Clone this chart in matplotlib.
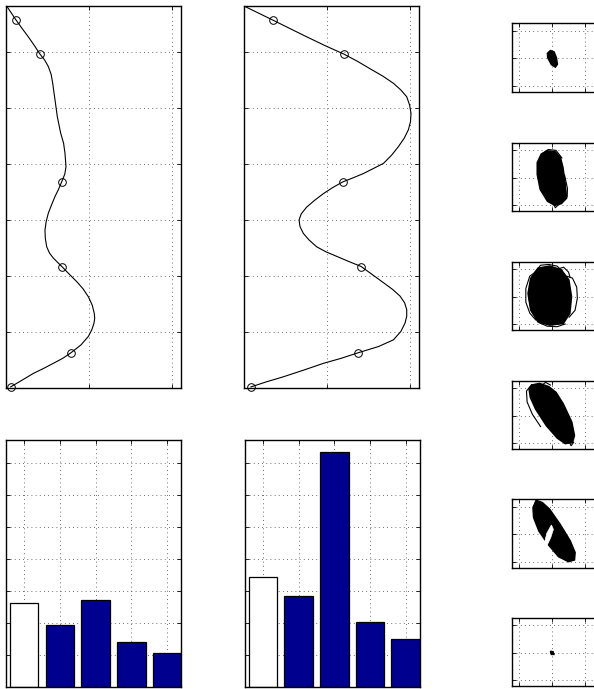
import matplotlib
matplotlib.use('Agg')
import matplotlib.pyplot as plt
from matplotlib.patches import Polygon

W, H = 594, 689

# Profiles (x, depth) for the two curve panels
prof1_x = [0.004, 0.117, 0.19, 0.265, 0.34, 0.406, 0.46, 0.506, 0.54, 0.559, 0.587, 0.615,
           0.655, 0.69, 0.707, 0.719, 0.705, 0.667, 0.63, 0.587, 0.545, 0.506, 0.48,
           0.466, 0.47, 0.487, 0.52, 0.566, 0.62, 0.675, 0.76, 0.848, 0.925, 0.988,
           1.035, 1.06, 1.065, 1.057, 1.03, 0.988, 0.90, 0.78, 0.68, 0.566, 0.45,
           0.325, 0.19, 0.053]
prof1_y = [6.82, 6.57, 6.42, 6.27, 6.11, 5.96, 5.86, 5.74, 5.60, 5.44, 5.14, 4.84,
           4.55, 4.37, 4.19, 3.95, 3.82, 3.68, 3.55, 3.42, 3.27, 3.12, 2.97,
           2.82, 2.67, 2.52, 2.41, 2.32, 2.24, 2.16, 2.03, 1.90, 1.77, 1.63,
           1.48, 1.33, 1.25, 1.16, 1.04, 0.92, 0.77, 0.63, 0.53, 0.44, 0.35,
           0.26, 0.14, 0.02]
mark1_x = [0.117, 0.406, 0.667, 0.675, 0.78, 0.053]

prof2_x = [0.0, 0.345, 0.55, 0.755, 0.98, 1.205, 1.37, 1.518, 1.67, 1.80, 1.89, 1.96,
           1.995, 2.012, 2.005, 1.98, 1.93, 1.86, 1.78, 1.68, 1.56, 1.44, 1.31,
           1.19, 1.07, 0.956, 0.85, 0.755, 0.69, 0.663, 0.675, 0.715, 0.785, 0.876,
           0.99, 1.117, 1.26, 1.41, 1.55, 1.68, 1.79, 1.88, 1.935, 1.96, 1.96,
           1.94, 1.89, 1.80, 1.62, 1.377, 1.17, 0.956, 0.72, 0.474, 0.27, 0.084]
prof2_y = [6.82, 6.57, 6.42, 6.27, 6.11, 5.96, 5.83, 5.70, 5.57, 5.44, 5.32, 5.20,
           5.05, 4.90, 4.75, 4.61, 4.46, 4.31, 4.16, 4.01, 3.92, 3.83, 3.75,
           3.68, 3.58, 3.47, 3.35, 3.23, 3.11, 3.00, 2.88, 2.76, 2.64, 2.52,
           2.43, 2.35, 2.26, 2.17, 2.02, 1.88, 1.76, 1.64, 1.52, 1.40, 1.28,
           1.16, 1.01, 0.86, 0.74, 0.63, 0.53, 0.44, 0.32, 0.20, 0.11, 0.02]
mark2_x = [0.345, 1.205, 1.19, 1.41, 1.377, 0.084]

mark_y = [6.57, 5.96, 3.68, 2.16, 0.63, 0.02]

# Bar heights
bars_x = [1, 2, 3, 4, 5]
bars1 = [2.63, 1.93, 2.72, 1.41, 1.06]
bars2 = [3.42, 2.84, 7.34, 2.01, 1.48]

# Phase portraits: filled outlines, holes and stray loops, per panel
blob1 = [(-0.05, 0.28), (0.06, 0.23), (0.13, 0.02), (0.16, -0.22), (0.10, -0.32),
         (-0.02, -0.23), (-0.13, 0.02), (-0.14, 0.18)]
blob2 = [(-0.15, 0.98), (0.09, 0.95), (0.25, 0.75), (0.33, 0.37), (0.40, -0.24),
         (0.44, -0.75), (0.28, -0.95), (0.08, -1.01), (-0.14, -0.86), (-0.36, -0.43),
         (-0.45, 0.12), (-0.45, 0.55), (-0.33, 0.86)]
blob3 = [(-0.43, 1.04), (-0.07, 1.12), (0.28, 0.98), (0.51, 0.61), (0.59, 0.0),
         (0.54, -0.61), (0.34, -0.98), (-0.07, -1.04), (-0.43, -0.92), (-0.65, -0.49),
         (-0.73, 0.12), (-0.65, 0.67)]
blob4 = [(-0.62, 1.12), (-0.38, 1.18), (-0.10, 1.06), (0.12, 0.85), (0.34, 0.43),
         (0.60, -0.24), (0.68, -0.73), (0.62, -0.98), (0.40, -1.02), (0.16, -0.82),
         (-0.17, -0.37), (-0.50, 0.24), (-0.66, 0.67), (-0.70, 0.98)]
blob5 = [(-0.48, 1.24), (-0.30, 1.16), (-0.08, 0.92), (0.24, 0.37), (0.55, -0.24),
         (0.70, -0.67), (0.68, -0.94), (0.50, -1.00), (0.20, -0.82), (-0.12, -0.37),
         (-0.40, 0.12), (-0.56, 0.61), (-0.58, 0.98)]
hole5 = [(-0.02, 0.34), (0.04, 0.18), (-0.04, -0.12), (-0.15, -0.40), (-0.24, -0.36),
         (-0.16, 0.04)]
blob6 = [(-0.05, 0.05), (0.03, 0.03), (0.05, -0.06), (-0.02, -0.06)]

loops2 = [
    [(-0.3, 0.88), (-0.12, 1.03), (0.12, 1.0), (0.3, 0.72)],
    [(0.05, -0.98), (0.1, -1.1), (0.2, -0.98)],
    [(0.38, 0.1), (0.47, -0.4), (0.46, -0.7)],
]
loops3 = [
    [(0.45, 0.75), (0.62, 0.68), (0.75, 0.35), (0.77, -0.05), (0.70, -0.5), (0.52, -0.75)],
    [(-0.45, 0.95), (-0.68, 0.75), (-0.80, 0.3), (-0.80, -0.2), (-0.68, -0.6), (-0.5, -0.85)],
    [(-0.55, 0.85), (-0.35, 1.15), (-0.1, 1.18), (0.15, 1.12), (0.3, 0.95)],
    [(-0.4, -0.95), (-0.15, -1.08), (0.15, -1.1), (0.4, -1.0)],
    [(0.15, 1.0), (0.35, 1.08), (0.5, 0.9), (0.55, 0.7)],
    [(-0.6, 0.55), (-0.72, 0.0), (-0.62, -0.55)],
]
loops4 = [
    [(-0.62, 1.14), (-0.78, 0.9), (-0.76, 0.5), (-0.6, 0.05), (-0.35, -0.4)],
    [(-0.3, 1.12), (-0.2, 1.22), (-0.05, 1.12)],
    [(0.5, -0.92), (0.58, -1.1), (0.66, -0.97)],
]
loops5 = [
    [(-0.56, 1.0), (-0.48, 1.26), (-0.36, 1.12)],
]

blobs = [blob1, blob2, blob3, blob4, blob5, blob6]
holes = [None, None, None, None, hole5, None]
loops = [[], loops2, loops3, loops4, loops5, []]

small_top = [23.3, 142.7, 261.7, 380.7, 499.3, 617.7]

navy = '#00008F'
grid_kw = dict(color='0.25', linestyle=(0, (1, 4)), linewidth=0.6)


def px_axes(fig, left, top, width, height):
    return fig.add_axes([left / W, 1 - (top + height) / H, width / W, height / H])


def style(ax):
    ax.tick_params(direction='in', length=3, width=0.6, top=True, right=True,
                   labelbottom=False, labelleft=False)
    for s in ax.spines.values():
        s.set_linewidth(1.0)
    ax.grid(True, **grid_kw)
    ax.set_axisbelow(True)


fig = plt.figure(figsize=(W / 100, H / 100), dpi=100)

# Profile panels
for left, px, py, mx in [(6.3, prof1_x, prof1_y, mark1_x), (244, prof2_x, prof2_y, mark2_x)]:
    ax = px_axes(fig, left, 6, 175, 382)
    ax.plot(px, py, color='black', lw=0.8)
    ax.plot(mx, mark_y, 'o', mfc='none', mec='black', ms=5.5, mew=0.7, clip_on=False)
    ax.set_xlim(0, 2.108)
    ax.set_ylim(0, 6.82)
    ax.set_xticks([0, 1, 2])
    ax.set_yticks(range(0, 7))
    style(ax)

# Bar panels
for left, vals in [(6.3, bars1), (245, bars2)]:
    ax = px_axes(fig, left, 440, 175, 246.7)
    colors = ['white'] + [navy] * (len(vals) - 1)
    ax.bar(bars_x, vals, width=0.8, color=colors, edgecolor='black', linewidth=0.9)
    ax.set_xlim(0.5, 5.4)
    ax.set_ylim(0, 7.71)
    ax.set_xticks(bars_x)
    ax.set_yticks(range(0, 8))
    style(ax)

# Small phase-portrait panels, cut by the right edge of the figure
for top, blob, hole, lps in zip(small_top, blobs, holes, loops):
    ax = px_axes(fig, 511.7, top, 87, 68.3)
    ax.add_patch(Polygon(blob, closed=True, fc='black', ec='black', lw=1.2))
    if hole is not None:
        ax.add_patch(Polygon(hole, closed=True, fc='white', ec='white', lw=0.5))
    for lp in lps:
        xs, ys = zip(*lp)
        ax.plot(xs, ys, color='black', lw=0.8)
    ax.set_xlim(-1.23, 1.42)
    ax.set_ylim(-1.22, 1.28)
    ax.set_xticks([-1, 0, 1])
    ax.set_yticks([-1, 0, 1])
    style(ax)

fig.savefig('out.png', dpi=100)
